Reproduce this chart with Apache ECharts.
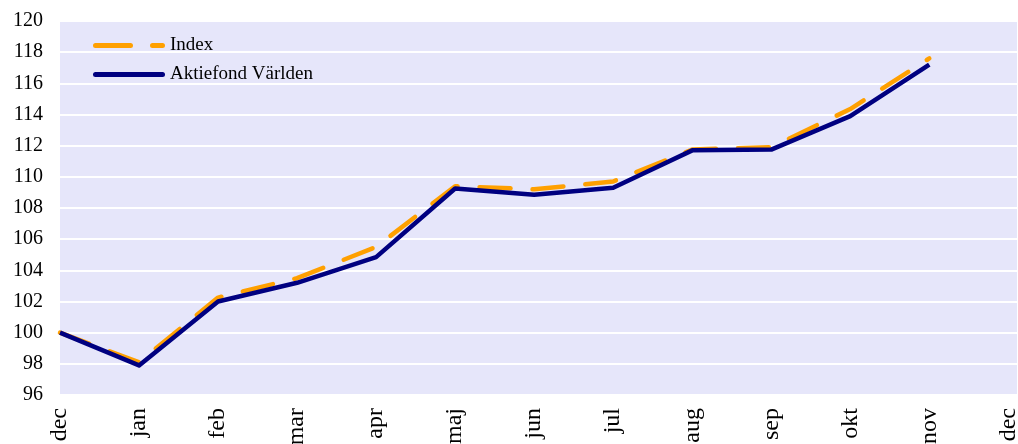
<!DOCTYPE html>
<html>
<head>
<meta charset="utf-8">
<script src="https://cdn.jsdelivr.net/npm/echarts@6/dist/echarts.min.js"></script>
<style>
  html, body { margin: 0; padding: 0; background: #ffffff; }
  #chart { width: 1018px; height: 444px; }
</style>
</head>
<body>
<div id="chart"></div>
<script>
// months along the x axis (the last dec has no data)
const months = ['dec', 'jan', 'feb', 'mar', 'apr', 'maj', 'jun', 'jul', 'aug', 'sep', 'okt', 'nov', 'dec'];
const indexValues = [100, 98.1, 102.25, 103.5, 105.5, 109.4, 109.2, 109.7, 111.75, 111.9, 114.35, 117.6];
const fondValues = [100, 97.9, 102.0, 103.2, 104.85, 109.25, 108.85, 109.3, 111.7, 111.75, 113.9, 117.2];

const chartDom = document.getElementById('chart');
const myChart = echarts.init(chartDom);

const toPairs = vals => vals.map((v, i) => [i, v]);
const serif = '"Liberation Serif", "DejaVu Serif", serif';

// legend icons: a dashed and a solid line with round ends
const dashIcon = 'path://M2.5,0H37.5A2.5,2.5 0 0 1 37.5,5H2.5A2.5,2.5 0 0 1 2.5,0Z' +
  'M59.5,0H69.5A2.5,2.5 0 0 1 69.5,5H59.5A2.5,2.5 0 0 1 59.5,0Z';
const solidIcon = 'path://M2.5,0H69.5A2.5,2.5 0 0 1 69.5,5H2.5A2.5,2.5 0 0 1 2.5,0Z';

const option = {
  animation: false,
  backgroundColor: '#ffffff',
  textStyle: { fontFamily: serif, color: '#000000' },
  grid: {
    left: 60,
    right: 1,
    top: 21,
    bottom: 49,
    outerBoundsMode: 'none',
    containLabel: false,
    backgroundColor: '#e6e6fa',
    show: true,
    borderWidth: 0
  },
  legend: {
    orient: 'vertical',
    left: 93,
    top: 36,
    padding: 0,
    itemWidth: 72,
    itemHeight: 5,
    itemGap: 10,
    textStyle: { fontFamily: serif, fontSize: 19, color: '#000000' },
    data: [
      { name: 'Index', icon: dashIcon },
      { name: 'Aktiefond Världen', icon: solidIcon }
    ]
  },
  xAxis: {
    type: 'value',
    min: 0,
    max: 12.11,
    interval: 1,
    axisLine: { show: false },
    axisTick: { show: false },
    splitLine: { show: false },
    axisLabel: {
      rotate: 90,
      fontFamily: serif,
      fontSize: 24,
      color: '#000000',
      margin: 13,
      showMaxLabel: false,
      formatter: v => (Number.isInteger(v) && months[v] !== undefined) ? months[v] : ''
    }
  },
  yAxis: {
    type: 'value',
    min: 96,
    max: 120,
    interval: 2,
    axisLine: { show: false },
    axisTick: { show: false },
    axisLabel: { fontFamily: serif, fontSize: 20, color: '#000000', margin: 17 },
    splitLine: { lineStyle: { color: '#ffffff', width: 2 } }
  },
  series: [
    {
      name: 'Index',
      type: 'line',
      data: toPairs(indexValues),
      symbol: 'none',
      color: '#ffa000',
      lineStyle: { color: '#ffa000', width: 4.5, type: [31, 22], cap: 'round', join: 'round' }
    },
    {
      name: 'Aktiefond Världen',
      type: 'line',
      data: toPairs(fondValues),
      symbol: 'none',
      color: '#000080',
      lineStyle: { color: '#000080', width: 4.5, join: 'round' }
    }
  ]
};

option && myChart.setOption(option);
</script>
</body>
</html>
